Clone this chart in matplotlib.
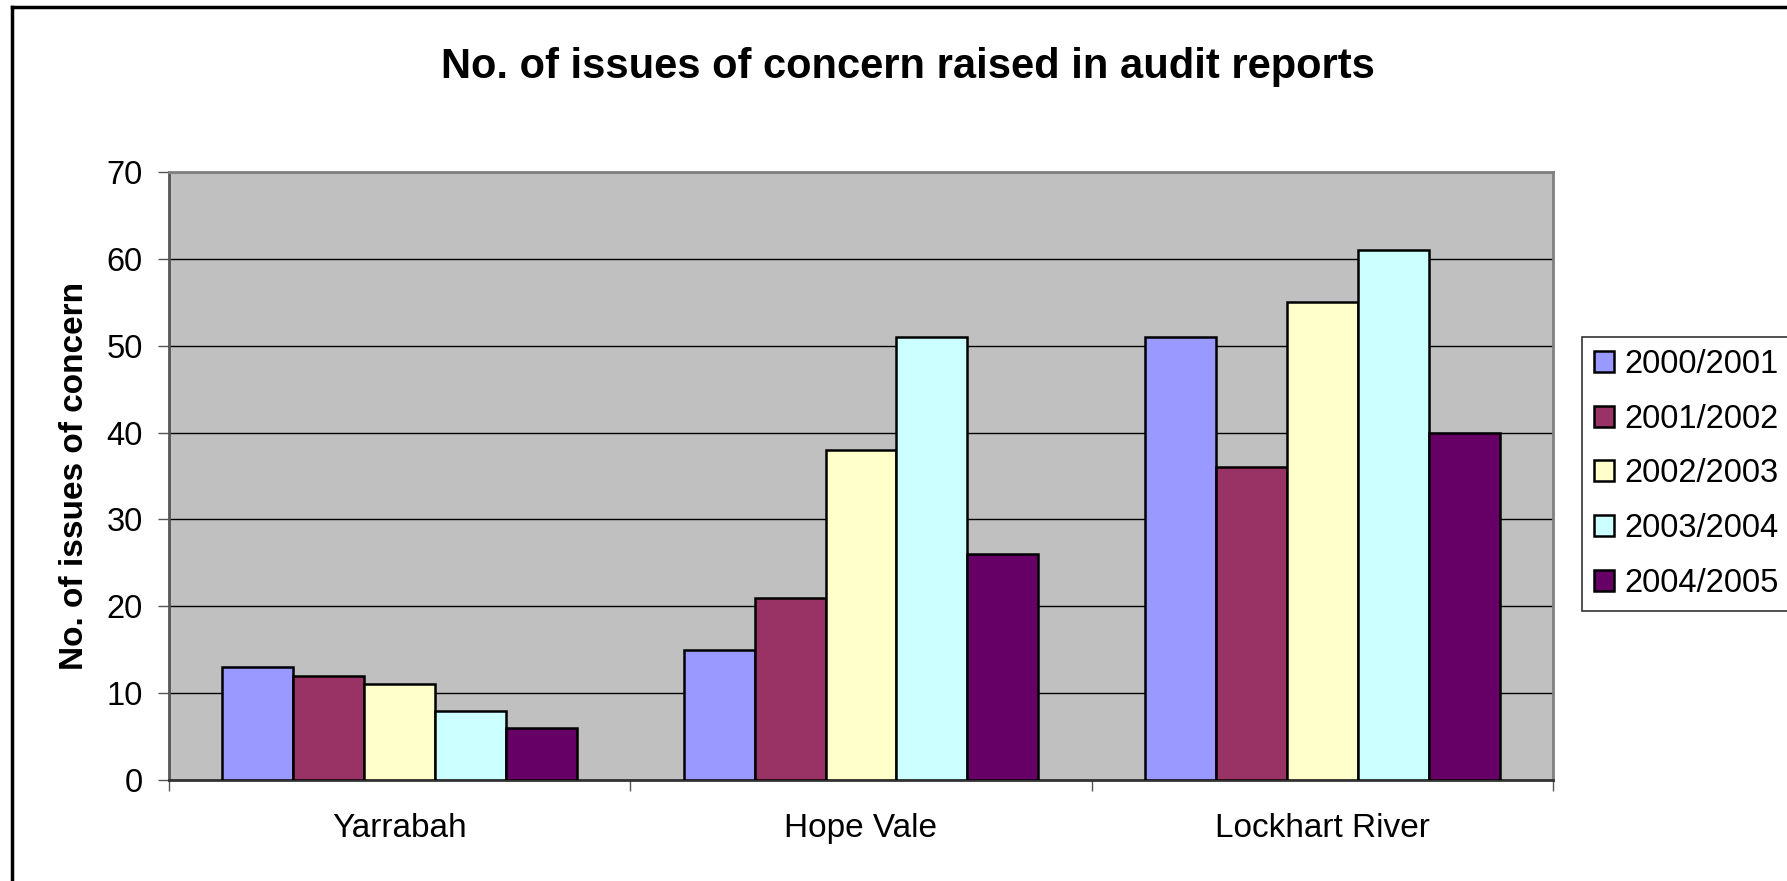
import numpy as np
import matplotlib
matplotlib.use("Agg")
import matplotlib.pyplot as plt
from matplotlib.lines import Line2D

plt.rcParams['font.family'] = ['Liberation Sans', 'DejaVu Sans']

# data
communities = ["Yarrabah", "Hope Vale", "Lockhart River"]
years = ["2000/2001", "2001/2002", "2002/2003", "2003/2004", "2004/2005"]
issues_2000 = [13, 15, 51]
issues_2001 = [12, 21, 36]
issues_2002 = [11, 38, 55]
issues_2003 = [8, 51, 61]
issues_2004 = [6, 26, 40]
yticks = [0, 10, 20, 30, 40, 50, 60, 70]

series = [issues_2000, issues_2001, issues_2002, issues_2003, issues_2004]
colors = ["#9999FF", "#993366", "#FFFFCC", "#CCFFFF", "#660066"]

W, H = 1787, 881
fig = plt.figure(figsize=(W / 100, H / 100), dpi=100)
fig.patch.set_facecolor("white")

# plot area in pixels: left 169, right 1553, top 172, bottom 780
ax = fig.add_axes([169 / W, 1 - 780 / H, (1553 - 169) / W, (780 - 172) / H])
ax.set_facecolor("#C0C0C0")

x = np.arange(len(communities))
bw = 1 / 6.5  # gap width 150%
for j, (vals, c, lab) in enumerate(zip(series, colors, years)):
    ax.bar(x + (j - 2) * bw, vals, width=bw, color=c, edgecolor="black",
           linewidth=1.8, label=lab, zorder=3)

ax.set_xlim(-0.5, 2.5)
ax.set_ylim(0, 70)
ax.set_yticks(yticks)
ax.yaxis.grid(True, color="black", linewidth=1.0, zorder=1)
ax.set_axisbelow(True)

# category boundaries get the tick marks, labels sit in between
ax.set_xticks([-0.5, 0.5, 1.5, 2.5])
ax.set_xticklabels([])
ax.set_xticks(x, minor=True)
ax.set_xticklabels(communities, minor=True, fontsize=24)
ax.tick_params(axis="x", which="major", length=8, width=1, color="#555555", direction="out")
ax.tick_params(axis="x", which="minor", length=0, pad=24)
ax.tick_params(axis="y", length=8, width=1, color="#555555", labelsize=23.5, pad=11)

for s in ["top", "right"]:
    ax.spines[s].set_color("#808080")
    ax.spines[s].set_linewidth(2)
ax.spines["left"].set_color("#555555")
ax.spines["left"].set_linewidth(2)
ax.spines["bottom"].set_color("#333333")
ax.spines["bottom"].set_linewidth(2)

ax.set_ylabel("No. of issues of concern", fontsize=24, fontweight="bold", labelpad=12)

fig.text(908 / W, 1 - 78 / H, "No. of issues of concern raised in audit reports",
         ha="center", va="baseline", fontsize=30, fontweight="bold")

# legend box runs off the right edge of the chart
leg = ax.legend(loc="upper left",
                bbox_to_anchor=(1582 / W, 1 - 337 / H - 0.3, 320 / W, 0.3),
                bbox_transform=fig.transFigure, mode="expand", fontsize=23.5,
                frameon=True, fancybox=False, handlelength=0.61, handleheight=0.61,
                handletextpad=0.34, labelspacing=0.73, borderpad=0.36,
                borderaxespad=0)
leg.get_frame().set_edgecolor("black")
leg.get_frame().set_linewidth(1.2)

# outer chart border (top and left edges)
fig.add_artist(Line2D([12 / W, 1], [1 - 7 / H, 1 - 7 / H], color="black",
                      linewidth=2.5, transform=fig.transFigure))
fig.add_artist(Line2D([12 / W, 12 / W], [0, 1 - 7 / H], color="black",
                      linewidth=2.5, transform=fig.transFigure))

fig.savefig("out.png", dpi=100)
